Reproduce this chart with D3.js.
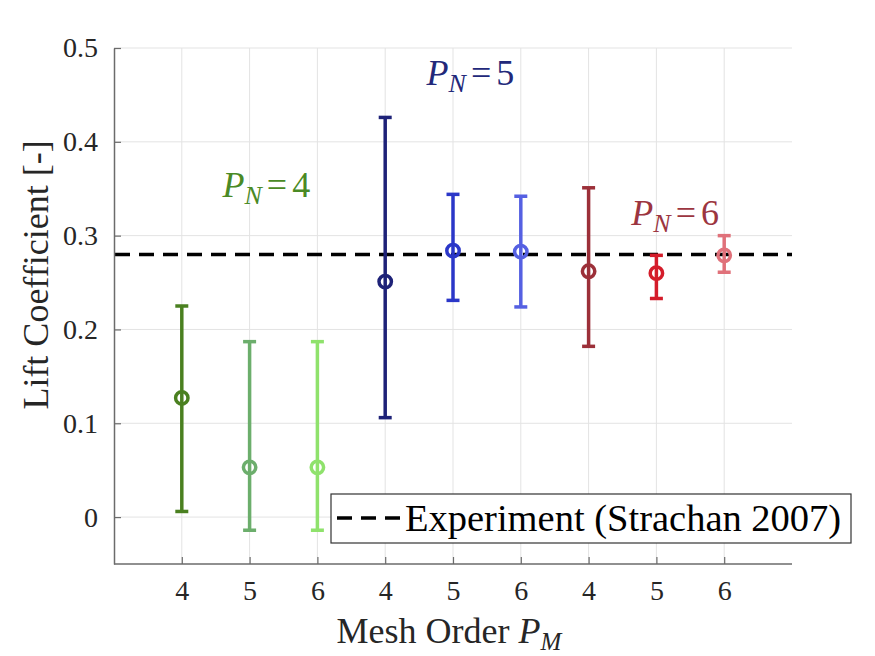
<!DOCTYPE html>
<html lang="en">
  <head>
    <meta charset="utf-8">
    <script type="text/javascript" src="https://d3js.org/d3.v7.min.js"></script>
    <style>
      body { margin: 0; background: #fff; }
      text { font-family: "Liberation Serif", "Times New Roman", serif; fill: #262626; }
    </style>
  </head>
  <body>
    <div id="chart"></div>
    <script type="text/javascript">

      // cases along the x axis (position 1..9) and their mesh order label
      const casePos = [1, 2, 3, 4, 5, 6, 7, 8, 9];
      const meshOrder = ["4", "5", "6", "4", "5", "6", "4", "5", "6"];

      // lift coefficient: mean and error bar limits
      const liftMean = [0.127, 0.053, 0.053, 0.251, 0.284, 0.283, 0.262, 0.260, 0.279];
      const liftLow  = [0.006, -0.014, -0.014, 0.106, 0.231, 0.224, 0.182, 0.233, 0.261];
      const liftHigh = [0.225, 0.187, 0.187, 0.426, 0.344, 0.342, 0.351, 0.279, 0.300];

      const barColors = ["#4a8020", "#6cae6c", "#8fe26c",
                         "#1e2278", "#2b37c8", "#5560e2",
                         "#9c3039", "#d41c2a", "#e0717a"];

      // experimental value (Strachan 2007)
      const experiment = 0.28;

      // y ticks
      const yTicks = [0, 0.1, 0.2, 0.3, 0.4, 0.5];

      // P_N group labels, anchored in data units
      const groupN = ["4", "5", "6"];
      const groupX = [1.6, 4.61, 7.63];
      const groupY = [0.341, 0.4605, 0.311];
      const groupColors = ["#4a8a25", "#22287a", "#9c3540"];

      const W = 875, H = 656;
      const margin = {top: 48, right: 83, bottom: 92, left: 114},
          width = W - margin.left - margin.right,
          height = H - margin.top - margin.bottom;
      const serif = "'Liberation Serif', 'Times New Roman', serif";

      const svg = d3.select("#chart")
        .append("svg")
          .attr("width", W)
          .attr("height", H)
          .attr("font-family", serif)
        .append("g")
          .attr("transform", `translate(${margin.left}, ${margin.top})`);

      const x = d3.scaleLinear().domain([0, 10]).range([0, width]);
      const y = d3.scaleLinear().domain([-0.05, 0.5]).range([height, 0]);

      // grid
      svg.append("g")
        .selectAll("line")
        .data(casePos)
        .join("line")
          .attr("x1", d => x(d)).attr("x2", d => x(d))
          .attr("y1", 0).attr("y2", height)
          .attr("stroke", "#e3e3e3").attr("stroke-width", 1);
      svg.append("g")
        .selectAll("line")
        .data(yTicks)
        .join("line")
          .attr("x1", 0).attr("x2", width)
          .attr("y1", d => y(d)).attr("y2", d => y(d))
          .attr("stroke", "#e3e3e3").attr("stroke-width", 1);

      // experiment line
      svg.append("line")
        .attr("x1", 0).attr("x2", width)
        .attr("y1", y(experiment)).attr("y2", y(experiment))
        .attr("stroke", "#000").attr("stroke-width", 3.5)
        .attr("stroke-dasharray", "15,9")
        .attr("stroke-dashoffset", -1);

      // error bars
      const bars = svg.append("g")
        .selectAll("g")
        .data(casePos.map((p, i) => ({p, m: liftMean[i], lo: liftLow[i], hi: liftHigh[i], c: barColors[i]})))
        .join("g")
          .attr("stroke", d => d.c)
          .attr("stroke-width", 3.5)
          .attr("fill", "none");

      bars.append("line")
        .attr("x1", d => x(d.p)).attr("x2", d => x(d.p))
        .attr("y1", d => y(d.lo)).attr("y2", d => y(d.hi));
      bars.append("line")
        .attr("x1", d => x(d.p) - 6.5).attr("x2", d => x(d.p) + 6.5)
        .attr("y1", d => y(d.hi)).attr("y2", d => y(d.hi));
      bars.append("line")
        .attr("x1", d => x(d.p) - 6.5).attr("x2", d => x(d.p) + 6.5)
        .attr("y1", d => y(d.lo)).attr("y2", d => y(d.lo));
      bars.append("circle")
        .attr("cx", d => x(d.p)).attr("cy", d => y(d.m))
        .attr("r", 6.2);

      // P_N labels
      groupN.forEach((n, i) => {
        const t = svg.append("text")
          .attr("x", x(groupX[i])).attr("y", y(groupY[i]))
          .attr("font-family", serif)
          .style("font-size", "36px")
          .style("fill", groupColors[i]);
        t.append("tspan").style("font-style", "italic").style("fill", groupColors[i]).text("P");
        t.append("tspan").style("font-style", "italic").style("font-size", "26px")
          .style("fill", groupColors[i]).attr("dy", 7).text("N");
        t.append("tspan").attr("dy", -7).attr("dx", 5).style("fill", groupColors[i]).text("=");
        t.append("tspan").attr("dx", 5).style("fill", groupColors[i]).text(n);
      });

      // axes
      const xAxis = svg.append("g")
        .attr("transform", `translate(0, ${height})`)
        .call(d3.axisBottom(x).tickValues(casePos)
          .tickFormat((d, i) => meshOrder[i]).tickSizeInner(-7).tickSizeOuter(0).tickPadding(16));
      const yAxis = svg.append("g")
        .call(d3.axisLeft(y).tickValues(yTicks)
          .tickFormat(d => d === 0 ? "0" : d3.format(".1f")(d)).tickSizeInner(-7).tickSizeOuter(0).tickPadding(16));

      [xAxis, yAxis].forEach(a => {
        a.attr("font-family", serif).attr("font-size", 28);
        a.select(".domain").attr("stroke", "#6b6b6b").attr("stroke-width", 1.5);
        a.selectAll(".tick line").attr("stroke", "#6b6b6b").attr("stroke-width", 1.2);
        a.selectAll(".tick text")
          .attr("font-family", serif)
          .style("font-size", "28px")
          .style("fill", "#262626");
      });
      // extend x axis line over the full width (axis has no outer tick)
      xAxis.select(".domain").attr("d", `M0,0H${width}`);

      // legend
      const leg = svg.append("g").attr("transform", `translate(${331 - margin.left}, ${494 - margin.top})`);
      leg.append("rect")
        .attr("width", 520).attr("height", 49)
        .attr("fill", "#fff").attr("stroke", "#333").attr("stroke-width", 1.2);
      leg.append("line")
        .attr("x1", 6).attr("x2", 69).attr("y1", 24).attr("y2", 24)
        .attr("stroke", "#000").attr("stroke-width", 3.5)
        .attr("stroke-dasharray", "15,9");
      leg.append("text")
        .attr("x", 74).attr("y", 37)
        .style("font-size", "38.5px")
        .style("fill", "#000")
        .text("Experiment (Strachan 2007)");

      // axis labels
      const xl = svg.append("text")
        .attr("x", x(5) - 4).attr("y", 643 - margin.top)
        .attr("text-anchor", "middle")
        .style("font-size", "36px");
      xl.append("tspan").text("Mesh Order ");
      xl.append("tspan").style("font-style", "italic").text("P");
      xl.append("tspan").style("font-style", "italic").style("font-size", "25px").attr("dy", 7).text("M");

      svg.append("text")
        .attr("transform", `translate(${48 - margin.left}, ${275 - margin.top}) rotate(-90)`)
        .attr("text-anchor", "middle")
        .style("font-size", "36px")
        .text("Lift Coefficient [-]");

    </script>
  </body>
</html>
